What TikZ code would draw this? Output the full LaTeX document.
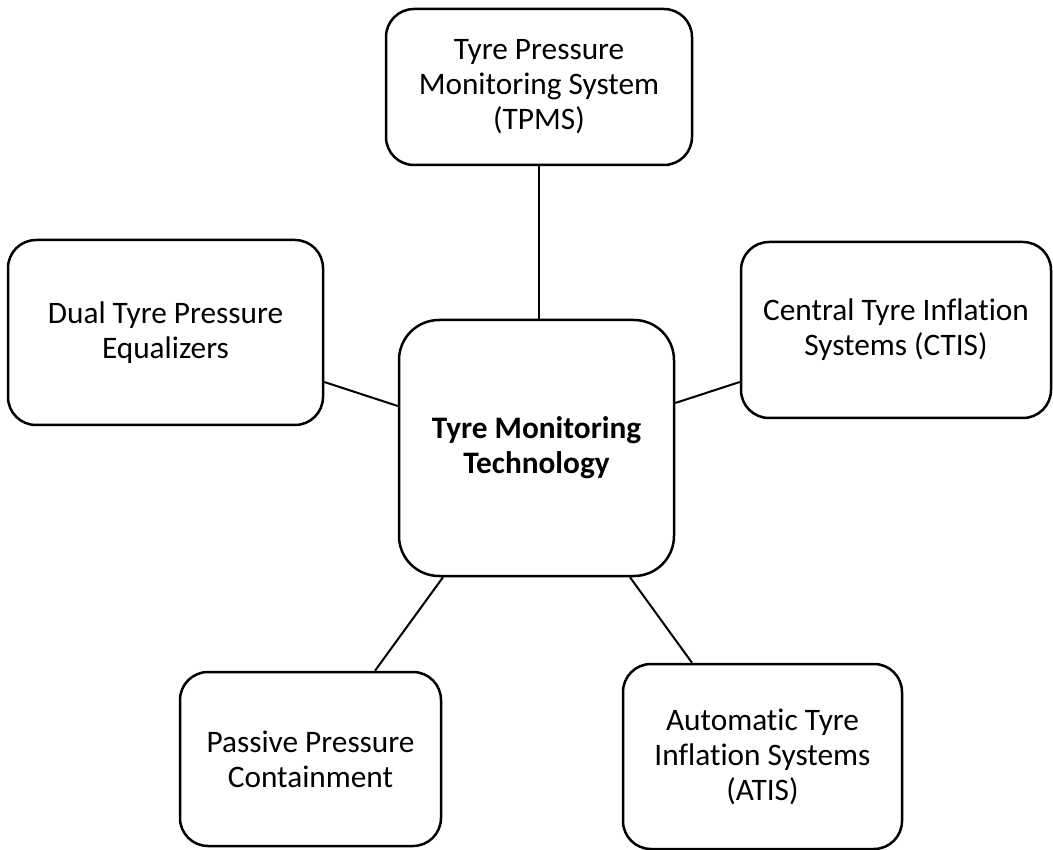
\documentclass[tikz,border=0pt]{standalone}
\usepackage{fontspec}
\setmainfont{Carlito}[Ligatures=NoCommon]
\begin{document}
\begin{tikzpicture}[x=1pt,y=-1pt,
  box/.style={draw=black, line width=2.5pt, rounded corners=28pt, inner sep=0pt,
    align=center, font=\fontsize{31.3}{35}\selectfont},
  bigbox/.style={box, rounded corners=40pt, font=\fontsize{31.3}{35}\selectfont\bfseries},
  link/.style={draw=black, line width=2pt}]
\useasboundingbox (0,0) rectangle (1053,850);
\fill[white] (0,0) rectangle (1053,850);

\node[box, minimum width=306pt, minimum height=156pt] (tpms) at (539,87)
  {Tyre Pressure\\Monitoring System\\(TPMS)};
\node[box, minimum width=315pt, minimum height=185pt] (dual) at (165.5,332.5)
  {Dual Tyre Pressure\\Equalizers};
\node[box, minimum width=310pt, minimum height=176pt] (ctis) at (896,330)
  {Central Tyre Inflation\\Systems (CTIS)};
\node[bigbox, minimum width=275pt, minimum height=256pt] (center) at (536.5,448)
  {Tyre Monitoring\\Technology};
\node[box, minimum width=261pt, minimum height=174pt] (passive) at (310.5,759)
  {Passive Pressure\\Containment};
\node[box, minimum width=279pt, minimum height=185pt] (atis) at (762.5,756.5)
  {Automatic Tyre\\Inflation Systems\\(ATIS)};

\draw[link] (tpms.south) -- (tpms.south |- center.north);
\draw[link] ([yshift=-49.5pt]dual.east) -- ([yshift=42pt]center.west);
\draw[link] ([yshift=-52pt]ctis.west) -- ([yshift=45pt]center.east);
\draw[link] ([xshift=-93.5pt]center.south) -- ([xshift=64.5pt]passive.north);
\draw[link] ([xshift=93.5pt]center.south) -- ([xshift=-70.5pt]atis.north);
\end{tikzpicture}
\end{document}
